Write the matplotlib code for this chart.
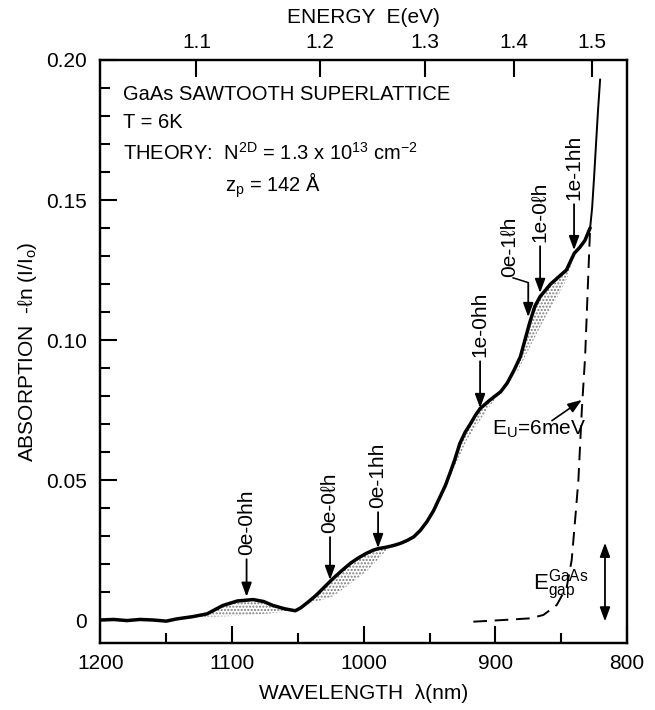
import numpy as np
import matplotlib.pyplot as plt

plt.rcParams['font.family'] = ['Liberation Sans', 'DejaVu Sans']
plt.rcParams['mathtext.fontset'] = 'custom'
plt.rcParams['mathtext.rm'] = 'Liberation Sans'
plt.rcParams['mathtext.it'] = 'Liberation Sans'
plt.rcParams['hatch.linewidth'] = 1.0

# ------------------------
# Data
# ------------------------
# measured absorption spectrum (wavelength nm, -ln(I/I0))
wl = [1200, 1190, 1180, 1170, 1160, 1150, 1142, 1130, 1119, 1107, 1096, 1084,
      1076, 1069, 1060, 1052, 1048, 1042, 1036, 1030, 1024, 1017, 1010, 1004,
      998, 993, 989, 984, 980, 976, 972, 967, 962, 957, 952, 947, 942, 938,
      934.5, 931, 927, 923, 919, 915, 911.6, 904, 896, 891, 886, 881, 874,
      870, 866, 858, 852, 846, 840, 836, 832, 828, 826.5, 825, 823.5, 822,
      820.4]
absorb = [0.0, 0.0002, -0.0002, 0.0002, 0.0, -0.0004, 0.0004, 0.0012, 0.0022,
          0.0052, 0.0068, 0.0073, 0.0066, 0.0052, 0.0040, 0.0033, 0.0043,
          0.0065, 0.0089, 0.0117, 0.0145, 0.0175, 0.0203, 0.0222, 0.0238,
          0.0249, 0.0255, 0.0259, 0.0263, 0.0268, 0.0274, 0.0284, 0.0297,
          0.0320, 0.0351, 0.0390, 0.0440, 0.0480, 0.0524, 0.0570, 0.0630,
          0.0670, 0.0700, 0.0732, 0.0755, 0.0786, 0.0815, 0.0846, 0.0890,
          0.0940, 0.1060, 0.1120, 0.1155, 0.1200, 0.1225, 0.1250, 0.1310,
          0.1330, 0.1355, 0.1400, 0.1470, 0.1580, 0.1700, 0.1820, 0.1930]

# Urbach tail of bulk GaAs (dashed)
urb_wl = [916.7, 894, 873.6, 863.5, 853.3, 845.7, 842, 839.4, 836.9, 834.3,
          831.8, 828]
urb_abs = [-0.0006, 0.0, 0.0006, 0.0018, 0.0054, 0.0119, 0.0214, 0.0357,
           0.050, 0.0750, 0.0940, 0.1400]

# lower edges of the stippled (excitonic) areas
shade_ranges = [(1132, 1052), (1040, 982), (942, 898), (884, 841)]
shade_low_wl = [[1132, 1100, 1075, 1055],
                [1040, 1023, 998, 982],
                [942, 932, 921.7, 906.5, 898],
                [884, 870, 860, 852, 845, 841]]
shade_low_abs = [[0.0010, 0.0014, 0.0022, 0.0031],
                 [0.0060, 0.0085, 0.0173, 0.0252],
                 [0.0440, 0.0536, 0.0643, 0.0750, 0.0800],
                 [0.0880, 0.1010, 0.1100, 0.1160, 0.1225, 0.1290]]

# transition markers: label, arrow tip wavelength, tip value, text bottom value
trans_labels = ['0e-0hh', '0e-0ℓh', '0e-1hh', '1e-0hh', '1e-0ℓh', '1e-1hh']
trans_wl = [1089, 1025.6, 989.1, 911.6, 866.0, 840.2]
trans_tip = [0.0083, 0.0143, 0.0257, 0.0757, 0.1168, 0.1321]
trans_txt = [0.0232, 0.0311, 0.0400, 0.0939, 0.1350, 0.1500]

energy_ticks = [1.1, 1.2, 1.3, 1.4, 1.5]

# ------------------------
# Figure
# ------------------------
fig = plt.figure(figsize=(6.55, 7.1), dpi=100)
ax = fig.add_axes([0.1534, 0.0944, 0.8038, 0.8211])

wl = np.array(wl)
absorb = np.array(absorb)

# stippled areas between spectrum and background
for (hi, lo), bw, ba in zip(shade_ranges, shade_low_wl, shade_low_abs):
    m = (wl <= hi) & (wl >= lo)
    px = np.concatenate([wl[m], bw[::-1]])
    py = np.concatenate([absorb[m], ba[::-1]])
    ax.fill(px, py, facecolor='none', edgecolor='#7a7a7a', hatch='.....', lw=0)

thick = wl >= 828
thin = wl <= 828
ax.plot(wl[thick], absorb[thick], color='black', lw=2.5, solid_joinstyle='round',
        solid_capstyle='round')
ax.plot(wl[thin], absorb[thin], color='black', lw=1.4)

ax.plot(urb_wl, urb_abs, color='black', lw=1.4, dashes=(7, 4))

arrow_kw = dict(arrowstyle='-|>,head_length=0.6,head_width=0.22', color='black',
                lw=1.3, mutation_scale=14, shrinkA=1, shrinkB=0)

for lab, x, tip, ty in zip(trans_labels, trans_wl, trans_tip, trans_txt):
    ax.annotate(lab, xy=(x, tip), xytext=(x, ty), rotation=90, ha='center',
                va='bottom', fontsize=15, arrowprops=arrow_kw)

# 0e-1lh with kinked leader
ax.text(889.5, 0.1225, '0e-1ℓh', rotation=90, ha='center', va='bottom', fontsize=15)
ax.plot([886.5, 875], [0.1222, 0.1205], color='black', lw=1.1)
ax.annotate('', xy=(875, 0.1082), xytext=(875, 0.1207), arrowprops=arrow_kw)

# Urbach energy label
ax.text(902.6, 0.0682, r'E$_\mathrm{U}$=6meV', ha='left', va='center', fontsize=15)
ax.annotate('', xy=(834.3, 0.0786), xytext=(857, 0.0712),
            arrowprops=dict(arrowstyle='-|>,head_length=0.6,head_width=0.22',
                            color='black', lw=1.2, mutation_scale=14,
                            shrinkA=0, shrinkB=0))

# GaAs gap marker
ax.text(871.4, 0.0125, r'E$^\mathrm{GaAs}_\mathrm{gap}$', ha='left', va='center',
        fontsize=16)
ax.annotate('', xy=(816.7, -0.0005), xytext=(816.7, 0.0276),
            arrowprops=dict(arrowstyle='<|-|>,head_length=0.6,head_width=0.22',
                            color='black', lw=1.3, mutation_scale=14,
                            shrinkA=0, shrinkB=0))

# sample info
ax.text(1182.9, 0.1875, 'GaAs SAWTOOTH SUPERLATTICE', ha='left', va='center',
        fontsize=14.5)
ax.text(1182.9, 0.1775, 'T = 6K', ha='left', va='center', fontsize=14.5)
ax.text(1182.9, 0.1670,
        r'THEORY:  N$^\mathrm{2D}$ = 1.3 x 10$^\mathrm{13}$ cm$^\mathrm{-2}$',
        ha='left', va='center', fontsize=14.5)
ax.text(1105.4, 0.1554, r'z$_\mathrm{p}$ = 142 Å', ha='left', va='center',
        fontsize=14.5)

# ------------------------
# Axes
# ------------------------
ax.set_xlim(1200, 800)
ax.set_ylim(-0.0082, 0.20)
ax.set_xticks([1200, 1100, 1000, 900, 800])
ax.set_xticks([1150, 1050, 950, 850], minor=True)
ax.set_yticks([0, 0.05, 0.10, 0.15, 0.20])
ax.set_yticklabels(['0', '0.05', '0.10', '0.15', '0.20'])
ax.set_yticks(np.arange(0.01, 0.20, 0.01), minor=True)
ax.tick_params(which='both', direction='in', top=False, right=False, width=1.5,
               labelsize=15)
ax.tick_params(which='major', length=12, pad=8)
ax.tick_params(which='minor', length=7)
ax.tick_params(axis='y', which='major', pad=10)
for s in ax.spines.values():
    s.set_linewidth(1.6)

ax.set_xlabel('WAVELENGTH  λ(nm)', fontsize=15, labelpad=8)
ax.set_ylabel(r'ABSORPTION  -ℓn (I/I$_\mathrm{o}$)', fontsize=15, labelpad=5)

ax2 = ax.twiny()
ax2.set_xlim(ax.get_xlim())
ax2.set_xticks(1239.84 / np.array(energy_ticks))
ax2.set_xticklabels(['%.1f' % e for e in energy_ticks])
ax2.tick_params(direction='in', length=12, width=1.5, labelsize=15, pad=6)
ax2.set_xlabel('ENERGY  E(eV)', fontsize=15, labelpad=7)
for s in ax2.spines.values():
    s.set_linewidth(1.6)

fig.savefig('out.png', dpi=100)
